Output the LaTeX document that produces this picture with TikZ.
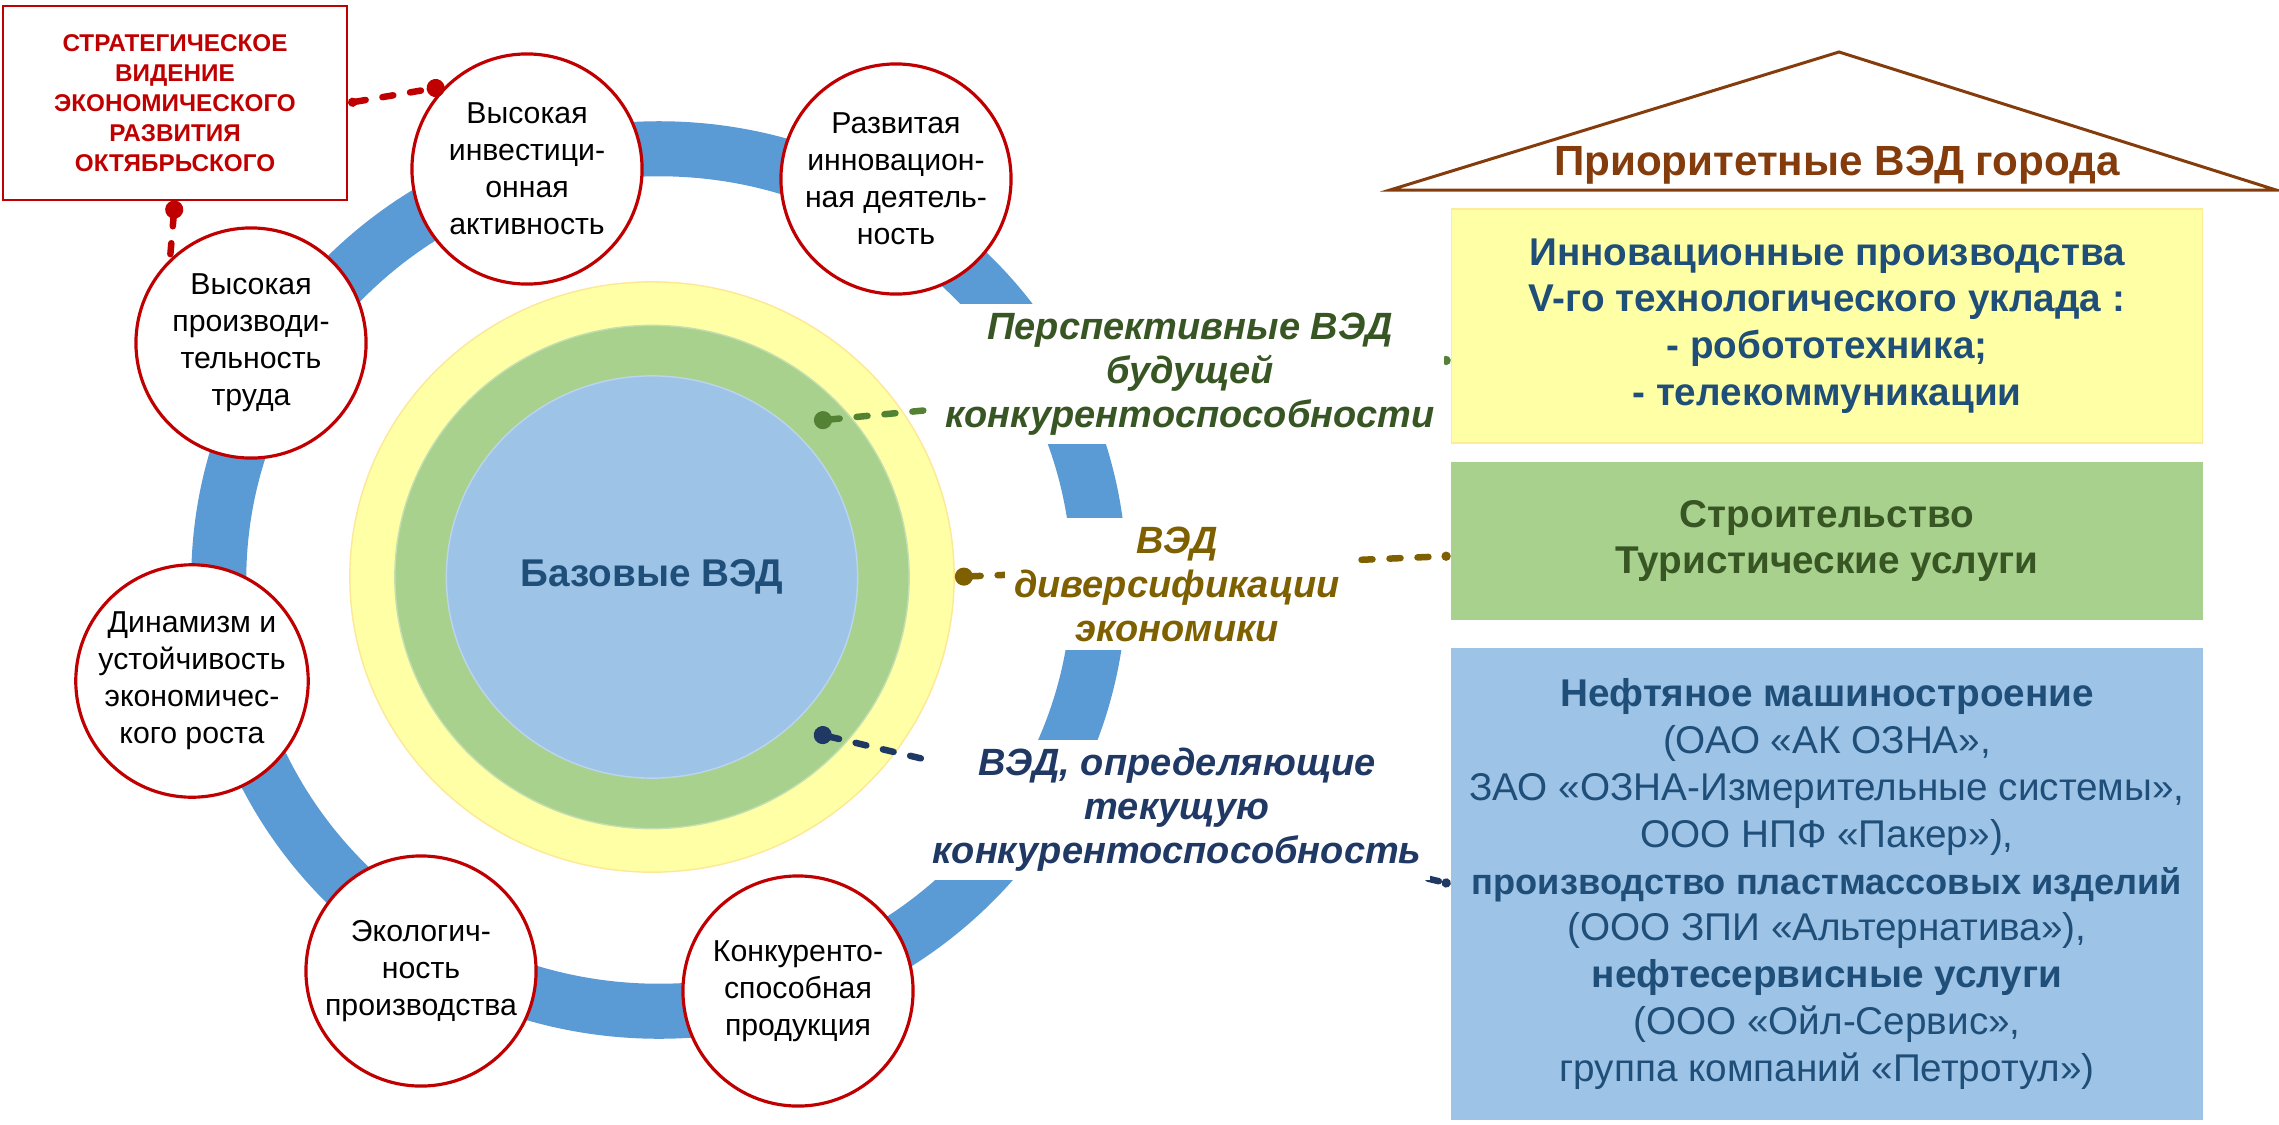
\documentclass[tikz,border=0pt]{standalone}
\usepackage{fontspec}
\setmainfont{Liberation Sans}
\usetikzlibrary{arrows.meta,shapes.geometric}

\definecolor{ringblue}{HTML}{5B9BD5}
\definecolor{paleyellow}{HTML}{FFFFA6}
\definecolor{palegreen}{HTML}{A9D18E}
\definecolor{paleblue}{HTML}{9DC3E6}
\definecolor{vedred}{HTML}{C00000}
\definecolor{roofbrown}{HTML}{843C0C}
\definecolor{leafgreen}{HTML}{375623}
\definecolor{dotgreen}{HTML}{548235}
\definecolor{vedolive}{HTML}{7F6000}
\definecolor{vednavy}{HTML}{203864}
\definecolor{textblue}{HTML}{1F4E79}

\begin{document}
\begin{tikzpicture}[x=0.01cm,y=-0.01cm,
	goal/.style={draw=vedred,line width=0.9pt,fill=white,circle,minimum size=2.3cm,inner sep=0pt,align=center,font=\fontsize{8.6}{10.5}\selectfont},
	level/.style={fill=white,inner sep=2.5pt,align=center,font=\fontsize{10.8}{12.5}\selectfont\bfseries\itshape},
	plate/.style={minimum width=7.51cm,inner sep=0pt,align=center,font=\fontsize{11}{13.3}\selectfont},
	disc/.style={ellipse,inner sep=0pt},
	link/.style={line width=0.065cm,line cap=round,dash pattern=on 0.11cm off 0.17cm}]
	\useasboundingbox (0,0) rectangle (2279,1124);
	\draw[ringblue,line width=0.55cm] (659,580) ellipse[x radius=4.4cm,y radius=4.31cm];
	\node (Y) [disc,fill=paleyellow,draw=yellow!60!orange!40,minimum width=6.04cm,minimum height=5.9cm] at (652,577) {};
	\node (G) [disc,fill=palegreen,draw=palegreen!70!white,minimum width=5.14cm,minimum height=5.03cm] at (652,577) {};
	\node (B) [disc,fill=paleblue,draw=paleblue!70!white,minimum width=4.11cm,minimum height=4.02cm,text=textblue,font=\fontsize{11}{13}\selectfont\bfseries] at (652,577) {Базовые ВЭД};
	\coordinate (gdot) at (814,421);
	\coordinate (ndot) at (814,733);
	\node (P1) [plate,fill=paleyellow,draw=yellow!70!orange!40,minimum height=2.34cm,text=textblue,font=\fontsize{11}{13.3}\selectfont\bfseries] at (1827,326) {Инновационные производства\\V-го технологического уклада :\\- робототехника;\\- телекоммуникации};
	\node (P2) [plate,fill=palegreen,minimum height=1.58cm,text=leafgreen,font=\fontsize{11}{13.3}\selectfont\bfseries] at (1827,541) {Строительство\\Туристические услуги};
	\node (P3) [plate,fill=paleblue,minimum height=4.72cm,text=textblue] at (1827,884) {\textbf{Нефтяное машиностроение}\\(ОАО «АК ОЗНА»,\\ЗАО «ОЗНА-Измерительные системы»,\\ООО НПФ «Пакер»),\\{\fontsize{10.3}{13.3}\selectfont\bfseries производство пластмассовых изделий}\\(ООО ЗПИ «Альтернатива»),\\\textbf{нефтесервисные услуги}\\(ООО «Ойл-Сервис»,\\группа компаний «Петротул»)};
	\draw[link,dotgreen,{Circle[length=0.18cm]}-{Circle[length=0.09cm]}] (gdot) -- ([yshift=-0.34cm]P1.west);
	\draw[link,vedolive,{Circle[length=0.18cm]}-{Circle[length=0.09cm]}] (Y.east) -- ([yshift=-0.15cm]P2.west);
	\draw[link,vednavy,{Circle[length=0.18cm]}-{Circle[length=0.09cm]}] (ndot) -- (P3.west);
	\node (L1) [level,text=leafgreen] at (1190,374) {Перспективные ВЭД\\будущей\\конкурентоспособности};
	\node (L2) [level,text=vedolive] at (1177,584) {ВЭД\\диверсификации\\экономики};
	\node (L3) [level,text=vednavy] at (1177,810) {ВЭД, определяющие\\текущую\\конкурентоспособность};
	\node (C1) [goal] at (527,169) {Высокая\\инвестици-\\онная\\активность};
	\node (C2) [goal] at (251,343) {Высокая\\производи-\\тельность\\труда};
	\node (C3) [goal] at (896,179) {Развитая\\инновацион-\\ная деятель-\\ность};
	\node (C4) [goal] at (192,681) {Динамизм и\\устойчивость\\экономичес-\\кого роста};
	\node (C5) [goal] at (421,971) {Экологич-\\ность\\производства};
	\node (C6) [goal] at (798,991) {Конкуренто-\\способная\\продукция};
	\node (R) [draw=vedred,line width=0.6pt,fill=white,minimum width=3.44cm,minimum height=1.93cm,align=center,text=vedred,font=\fontsize{6.9}{8.5}\selectfont\bfseries] at (175,103) {СТРАТЕГИЧЕСКОЕ\\ВИДЕНИЕ\\ЭКОНОМИЧЕСКОГО\\РАЗВИТИЯ\\ОКТЯБРЬСКОГО};
	\draw[link,vedred,{Circle[length=0.09cm]}-{Circle[length=0.18cm]}] (R.east) -- (C1.135);
	\draw[link,vedred,{Circle[length=0.18cm]}-] (R.south) -- (C2.134);
	\draw[roofbrown,line width=0.03cm] (1390,190) -- (1839,52) -- (2276,190) -- cycle;
	\node (T) [anchor=base,text=roofbrown,font=\fontsize{12}{14}\selectfont\bfseries] at (1837,175) {Приоритетные ВЭД города};
\end{tikzpicture}
\end{document}
